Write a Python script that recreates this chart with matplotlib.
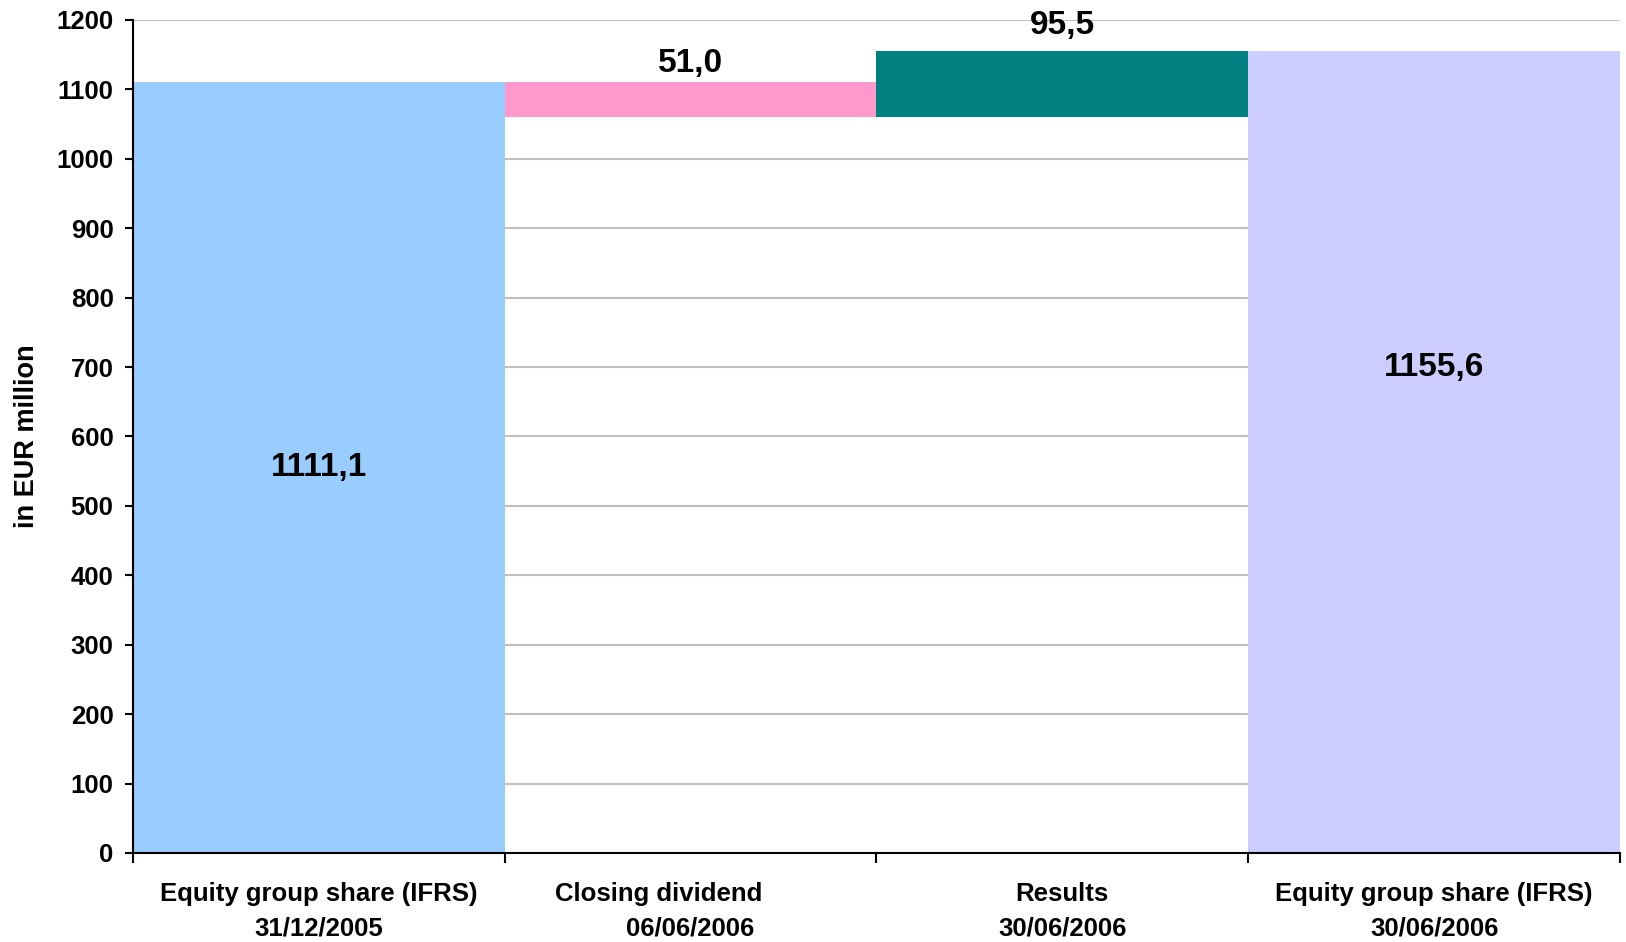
import matplotlib
matplotlib.use("Agg")
import matplotlib.pyplot as plt
import numpy as np

plt.rcParams['font.family'] = ['Liberation Sans', 'DejaVu Sans']
plt.rcParams['font.weight'] = 'bold'
plt.rcParams['axes.labelweight'] = 'bold'

categories = ["Equity group share (IFRS)\n31/12/2005",
              "Closing dividend         \n06/06/2006",
              "Results\n30/06/2006",
              "Equity group share (IFRS)\n30/06/2006"]
start_value = 1111.1
dividend = -51.0
results = 95.5
end_value = 1155.6
value_labels = ["1111,1", "51,0", "95,5", "1155,6"]
colors = ["#99CCFF", "#FF99CC", "#008080", "#CCCCFF"]
yticks = list(range(0, 1201, 100))

# waterfall geometry derived from values
bottoms = [0, start_value + dividend, start_value + dividend, 0]
heights = [start_value, -dividend, results, end_value]

fig = plt.figure(figsize=(16.26, 9.42), dpi=100)
ax = fig.add_axes([0.0818, 0.0945, 0.9145, 0.8843])

x = np.arange(len(categories))
ax.bar(x, heights, bottom=bottoms, width=1.0, color=colors, zorder=2, linewidth=0)

ax.set_xlim(-0.5, len(categories) - 0.5)
ax.set_ylim(0, 1200)
ax.set_yticks(yticks)
ax.yaxis.grid(True, color="#C0C0C0", linewidth=1.5, zorder=0)
ax.set_axisbelow(True)

for s in ["top", "right"]:
    ax.spines[s].set_visible(False)
for s in ["left", "bottom"]:
    ax.spines[s].set_linewidth(1.5)
    ax.spines[s].set_zorder(3)

ax.tick_params(axis='y', length=6, width=1.5, pad=8, labelsize=18.5)
# boundary ticks on x
ax.set_xticks(np.arange(-0.5, len(categories)), minor=False)
ax.set_xticklabels([])
ax.tick_params(axis='x', which='major', length=7, width=1.5)
ax.set_xticks(x, minor=True)
ax.set_xticklabels(categories, minor=True, fontsize=18.5, linespacing=1.55)
ax.tick_params(axis='x', which='minor', length=0, pad=21)

ax.set_ylabel("in EUR million", fontsize=19.5, labelpad=12)

# value labels
ax.text(x[0], start_value / 2, value_labels[0], ha='center', va='center', fontsize=24, zorder=4)
ax.annotate(value_labels[1], (x[1], start_value), xytext=(0, 13), textcoords='offset points',
            ha='center', va='center', fontsize=24, zorder=4)
ax.annotate(value_labels[2], (x[2], start_value + dividend + results), xytext=(0, 18),
            textcoords='offset points', ha='center', va='center', fontsize=24, zorder=4)
ax.text(x[3], 700, value_labels[3], ha='center', va='center', fontsize=24, zorder=4)

fig.savefig("out.png", dpi=100)
